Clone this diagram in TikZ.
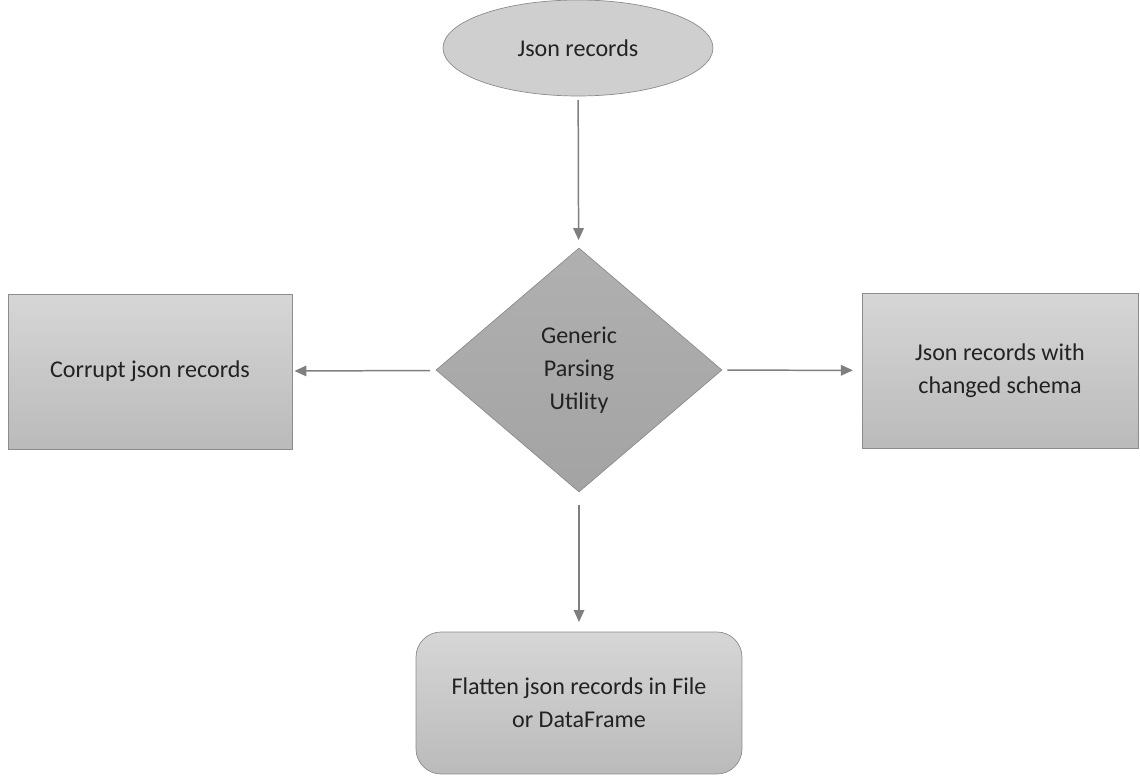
\documentclass[tikz,border=0pt]{standalone}
\usepackage{fontspec}
\setmainfont{Carlito}
\usetikzlibrary{shapes.geometric,arrows.meta}
\definecolor{edgegray}{HTML}{8C8C8C}
\definecolor{arrowgray}{HTML}{7F7F7F}
\definecolor{textgray}{HTML}{222222}
\begin{document}
\begin{tikzpicture}[x=0.02cm,y=-0.02cm,
    every node/.style={font=\fontsize{13.7}{18.8}\selectfont,text=textgray,align=center},
    box/.style={draw=edgegray,line width=0.4pt,top color=black!16,bottom color=black!27},
    flow/.style={draw=arrowgray,line width=0.85pt,-{Triangle[length=6.8pt,width=6pt]}}]
                    \useasboundingbox (0,0) rectangle (1140,776);
                    \node[ellipse,draw=edgegray,fill=black!19,minimum width=5.4cm,minimum height=1.92cm] (records) at (578,48) {Json records};
                    \node[diamond,draw=edgegray,top color=black!31,bottom color=black!36,minimum width=5.72cm,minimum height=4.88cm,inner sep=0pt] (parser) at (579,370) {Generic\\Parsing\\Utility};
                    \node[box,minimum width=5.68cm,minimum height=3.1cm] (corrupt) at (150,371.5) {Corrupt json records};
                    \node[box,minimum width=5.52cm,minimum height=3.1cm] (schema) at (1000,370.5) {Json records with\\changed schema};
                    \node[box,rounded corners=0.5cm,minimum width=6.52cm,minimum height=2.84cm] (flatten) at (579,703) {Flatten json records in File\\or DataFrame};
                    \draw[flow,shorten <=2pt,shorten >=4.5pt] (records) -- (parser);
                    \draw[flow,shorten <=3.5pt,shorten >=1.2pt] (parser) -- (corrupt);
                    \draw[flow,shorten <=3pt,shorten >=5pt] (parser) -- (schema);
                    \draw[flow,shorten <=7pt,shorten >=5.5pt] (parser) -- (flatten);
                \end{tikzpicture}
\end{document}
